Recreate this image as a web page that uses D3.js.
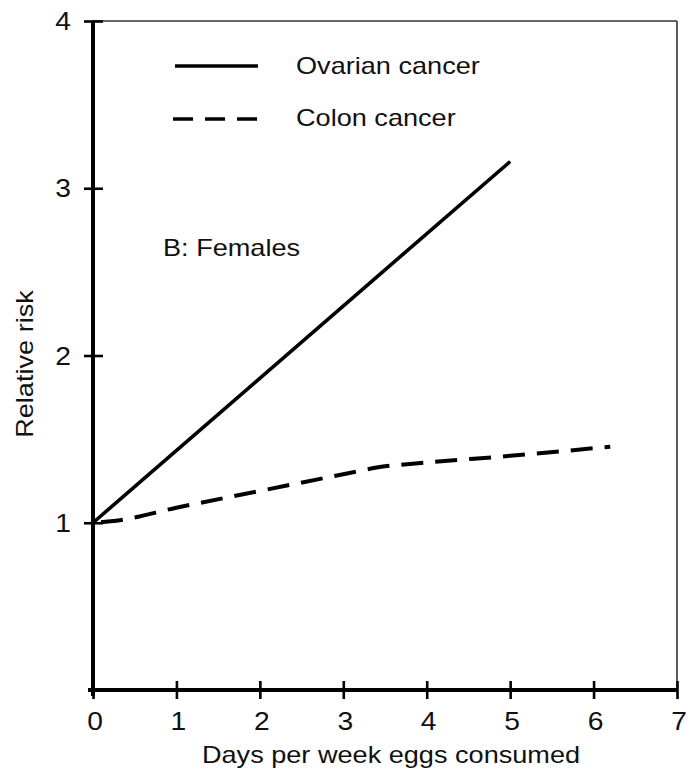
<!DOCTYPE html>
<html>
<head>
<meta charset="utf-8">
<script src="https://cdn.jsdelivr.net/npm/d3@7"></script>
<style>
  html, body { margin: 0; padding: 0; background: #fff; }
  svg { display: block; }
  text { font-family: "Liberation Sans", Arial, Helvetica, sans-serif; fill: #111; }
</style>
</head>
<body>
<svg id="chart" width="691" height="776"></svg>
<script>
// Relative risk by days per week eggs consumed (females)
const xTicks = [0, 1, 2, 3, 4, 5, 6, 7];
const yTicks = [1, 2, 3, 4];

const ovarianDays = [0, 5];
const ovarianRisk = [1.0, 3.16];

const colonDays = [0, 0.25, 1, 2, 3, 3.4, 4, 5, 6.2];
const colonRisk = [1.0, 1.01, 1.09, 1.19, 1.29, 1.33, 1.36, 1.40, 1.455];

const seriesNames = ["Ovarian cancer", "Colon cancer"];
const panelLabel = "B: Females";
const xTitle = "Days per week eggs consumed";
const yTitle = "Relative risk";

const svg = d3.select("#chart");
const x = d3.scaleLinear().domain([0, 7]).range([93, 677]);
const y = d3.scaleLinear().domain([0, 4]).range([690, 21]);

const STRETCH = 1.13;
function label(txt, px, py, opts = {}) {
  const g = svg.append("g")
    .attr("transform", `translate(${px},${py}) rotate(${opts.rotate || 0}) scale(${STRETCH},1)`);
  g.append("text")
    .attr("text-anchor", opts.anchor || "start")
    .attr("font-size", opts.size || 24)
    .text(txt);
}

// thin frame on top and right
svg.append("line")
  .attr("x1", x(0)).attr("x2", x(7)).attr("y1", y(4)).attr("y2", y(4))
  .attr("stroke", "#333").attr("stroke-width", 1.6);
svg.append("line")
  .attr("x1", x(7)).attr("x2", x(7)).attr("y1", y(4)).attr("y2", y(0))
  .attr("stroke", "#333").attr("stroke-width", 1.6);

// axes
const xAxis = svg.append("g")
  .attr("transform", `translate(0,${y(0)})`)
  .call(d3.axisBottom(x).tickValues(xTicks).tickFormat("").tickSizeOuter(0).tickSizeInner(9));
xAxis.select(".domain").attr("stroke", "#000").attr("stroke-width", 4)
  .attr("d", `M${x(0) - 5},0H${x(7)}`);
xAxis.selectAll(".tick line").attr("y1", -9).attr("y2", 9)
  .attr("stroke", "#000").attr("stroke-width", 2.6);

const yAxis = svg.append("g")
  .attr("transform", `translate(${x(0)},0)`)
  .call(d3.axisLeft(y).tickValues(yTicks).tickFormat("").tickSizeOuter(0).tickSizeInner(9));
yAxis.select(".domain").attr("stroke", "#000").attr("stroke-width", 4)
  .attr("d", `M0,${y(4)}V${y(0) + 6}`);
yAxis.selectAll(".tick line").attr("x1", -9).attr("x2", 10)
  .attr("stroke", "#000").attr("stroke-width", 2.6);

// tick labels
xTicks.forEach(v => label(String(v), x(v) + 2, 730, { anchor: "middle", size: 25 }));
yTicks.forEach(v => label(String(v), 71, y(v) + 9, { anchor: "end", size: 25 }));

// axis titles
label(xTitle, 391, 763, { anchor: "middle", size: 24 });
label(yTitle, 33, 364, { anchor: "middle", size: 24, rotate: -90 });

// series
const line = d3.line().x(d => x(d[0])).y(d => y(d[1]));
const ovarian = d3.zip(ovarianDays, ovarianRisk);
const colon = d3.zip(colonDays, colonRisk);

svg.append("path")
  .attr("d", line(ovarian))
  .attr("fill", "none").attr("stroke", "#000").attr("stroke-width", 3.6);

svg.append("path")
  .attr("d", line.curve(d3.curveMonotoneX)(colon))
  .attr("fill", "none").attr("stroke", "#000").attr("stroke-width", 4)
  .attr("stroke-dasharray", "22,12").attr("stroke-dashoffset", -8);

// legend
svg.append("line").attr("x1", 175).attr("x2", 258).attr("y1", 66).attr("y2", 66)
  .attr("stroke", "#000").attr("stroke-width", 3.4);
svg.append("line").attr("x1", 173).attr("x2", 259).attr("y1", 119).attr("y2", 119)
  .attr("stroke", "#000").attr("stroke-width", 3.6).attr("stroke-dasharray", "20,12");
label(seriesNames[0], 296, 74, { size: 24 });
label(seriesNames[1], 296, 126, { size: 24 });

// panel label
label(panelLabel, 163, 256, { size: 24 });
</script>
</body>
</html>
